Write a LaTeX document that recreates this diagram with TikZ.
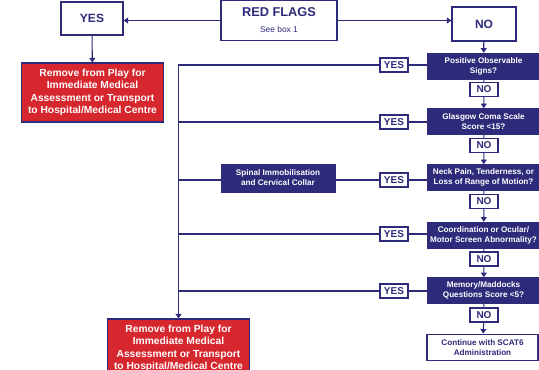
\documentclass[tikz,border=0pt]{standalone}
\usepackage{fontspec}
\setmainfont{Liberation Sans}
\usepackage{tikz}
\usetikzlibrary{calc,arrows.meta}
\definecolor{flagnavy}{RGB}{45,43,122}
\definecolor{flagred}{RGB}{214,38,46}
\tikzset{
  link/.style={draw=flagnavy,line width=0.8pt},
  flow/.style={link,-{Triangle[width=4.5pt,length=3.5pt]}},
  whitebox/.style={draw=flagnavy,line width=0.8pt,fill=white,text=flagnavy,inner sep=0pt,align=center,font=\bfseries},
  navybox/.style={draw=flagnavy,fill=flagnavy,text=white,inner sep=0pt,align=center,
    minimum width=84.75pt,minimum height=19.5pt,font=\fontsize{6.1}{7.6}\selectfont\bfseries},
  redbox/.style={draw=flagnavy,line width=0.8pt,fill=flagred,text=white,inner sep=0pt,align=center,
    minimum width=106pt,minimum height=44.25pt,font=\fontsize{7.7}{9.4}\selectfont\bfseries},
  answer/.style={whitebox,minimum width=21pt,minimum height=10.5pt,font=\fontsize{7.5}{8}\selectfont\bfseries}
}
\begin{document}
\begin{tikzpicture}[x=0.75pt,y=0.75pt,yscale=-1,xscale=1]
\useasboundingbox (0,0) rectangle (539,369);

%Top row
\node [whitebox,minimum width=87pt,minimum height=30pt] (redflags) at (279,20.5)
  {{\fontsize{9.6}{10}\selectfont RED FLAGS}\\[0pt]{\fontsize{6.3}{7}\selectfont\mdseries See box 1}};
\node [whitebox,minimum width=46.5pt,minimum height=24.75pt,font=\fontsize{9}{10}\selectfont\bfseries] (yestop) at (92,18.5) {YES};
\node [whitebox,minimum width=48pt,minimum height=25.5pt,font=\fontsize{9}{10}\selectfont\bfseries] (notop) at (484,24) {NO};
\node [redbox] (remove1) at (92.5,92.5) {Remove from Play for\\Immediate Medical\\Assessment or Transport\\to Hospital/Medical Centre};

%Questions
\node [navybox] (pos) at (483.5,66) {Positive Observable\\Signs?};
\node [navybox] (gcs) at (483.5,121.5) {Glasgow Coma Scale\\Score <15?};
\node [navybox] (neck) at (483.5,177.5) {Neck Pain, Tenderness, or\\Loss of Range of Motion?};
\node [navybox] (coord) at (483.5,235) {Coordination or Ocular/\\Motor Screen Abnormality?};
\node [navybox] (mem) at (483.5,290.5) {Memory/Maddocks\\Questions Score <5?};
\node [whitebox,minimum width=83.25pt,minimum height=20pt,font=\fontsize{6.1}{7.6}\selectfont\bfseries] (cont) at (482.5,347.5) {Continue with SCAT6\\Administration};

%NO labels
\node [answer] (no1) at (484,89.5) {NO};
\node [answer] (no2) at (484,145.5) {NO};
\node [answer] (no3) at (484,201.5) {NO};
\node [answer] (no4) at (484,259) {NO};
\node [answer] (no5) at (484,315) {NO};

%YES labels
\node [answer] (yes1) at (394,65) {YES};
\node [answer] (yes2) at (394,122) {YES};
\node [answer] (yes3) at (394,180) {YES};
\node [answer] (yes4) at (394,234) {YES};
\node [answer] (yes5) at (394,291) {YES};

\node [navybox,minimum width=85.5pt,minimum height=21pt] (spinal) at (278,178) {Spinal Immobilisation\\and Cervical Collar};
\node [redbox,minimum width=107pt] (remove2) at (178.5,348.5) {Remove from Play for\\Immediate Medical\\Assessment or Transport\\to Hospital/Medical Centre};

%Connectors
\draw [flow] (redflags.west) -- (redflags.west -| yestop.east);
\draw [flow] (redflags.east) -- (redflags.east -| notop.west);
\draw [flow] (yestop) -- (remove1);
\draw [flow] (notop) -- (pos);
\draw [link] (pos) -- (no1);
\draw [flow] (no1) -- (gcs);
\draw [link] (gcs) -- (no2);
\draw [flow] (no2) -- (neck);
\draw [link] (neck) -- (no3);
\draw [flow] (no3) -- (coord);
\draw [link] (coord) -- (no4);
\draw [flow] (no4) -- (mem);
\draw [link] (mem) -- (no5);
\draw [flow] (no5) -- (cont);

\draw [link] (yes1.east) -- (yes1.east -| pos.west);
\draw [link] (yes2.east) -- (yes2.east -| gcs.west);
\draw [link] (yes3.east) -- (yes3.east -| neck.west);
\draw [link] (yes4.east) -- (yes4.east -| coord.west);
\draw [link] (yes5.east) -- (yes5.east -| mem.west);

\draw [flow] (yes1.west) -| (remove2.north);
\draw [link] (yes2.west) -- (yes2.west -| remove2.north);
\draw [link] (yes3.west) -- (yes3.west -| spinal.east);
\draw [link] (yes3.west -| spinal.west) -- (yes3.west -| remove2.north);
\draw [link] (yes4.west) -- (yes4.west -| remove2.north);
\draw [link] (yes5.west) -- (yes5.west -| remove2.north);

\end{tikzpicture}
\end{document}
